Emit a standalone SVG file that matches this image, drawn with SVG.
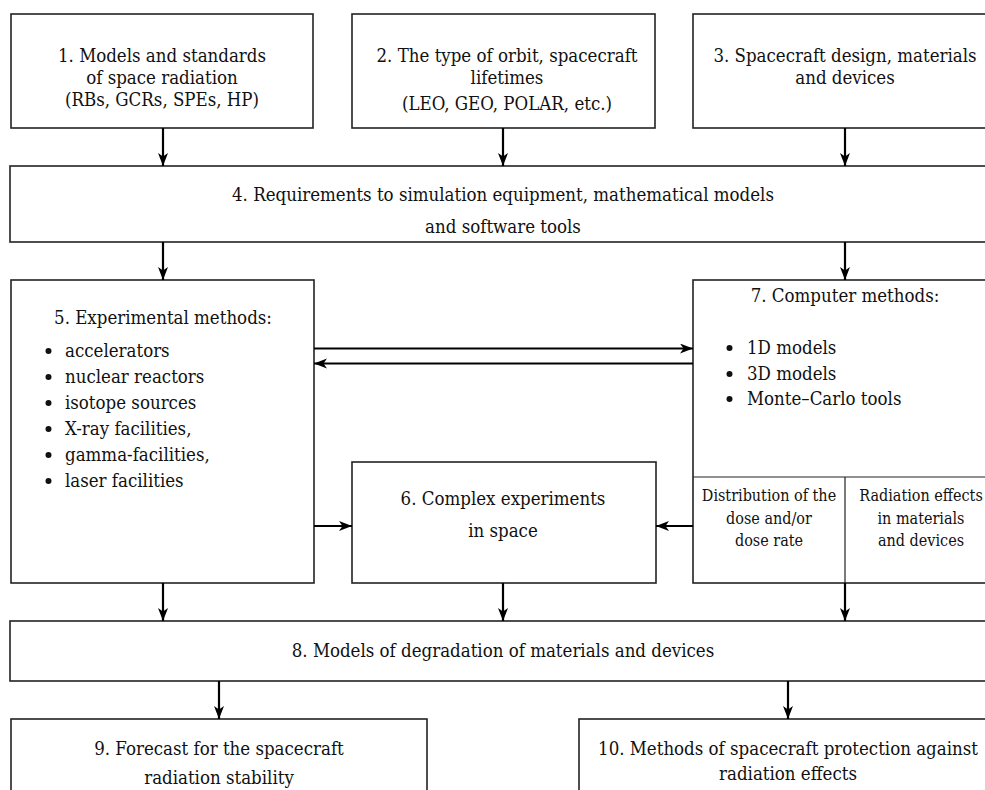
<svg xmlns="http://www.w3.org/2000/svg" width="985" height="790" viewBox="0 0 985 790">
<style>
.box{fill:#fff;stroke:#222;stroke-width:1.6}
.div{fill:none;stroke:#222;stroke-width:1.2}
text{font-family:'DejaVu Serif Condensed','DejaVu Serif',serif;font-stretch:condensed;fill:#111}
.t{font-size:18.5px;text-anchor:middle}
.tl{font-size:18.5px}
.ts{font-size:16px;text-anchor:middle}
.c{fill:none;stroke:#000;stroke-width:2.2;marker-end:url(#ah)}
.dot{fill:#111}
</style>
<defs>
<marker id="ah" markerUnits="userSpaceOnUse" markerWidth="14" markerHeight="12" refX="13" refY="5" orient="auto">
<path d="M0,0 L13,5 L0,10 L3.5,5 Z" fill="#000"/>
</marker>
</defs>
<rect width="985" height="790" fill="#fff"/>

<g id="n1">
<rect class="box" x="11" y="14" width="302" height="114"/>
<text class="t" x="162" y="62">1. Models and standards</text>
<text class="t" x="162" y="84">of space radiation</text>
<text class="t" x="162" y="106">(RBs, GCRs, SPEs, HP)</text>
</g>
<g id="n2">
<rect class="box" x="352" y="14" width="303" height="114"/>
<text class="t" x="507" y="62">2. The type of orbit, spacecraft</text>
<text class="t" x="507" y="84">lifetimes</text>
<text class="t" x="507" y="110">(LEO, GEO, POLAR, etc.)</text>
</g>
<g id="n3">
<rect class="box" x="693" y="14" width="304" height="114"/>
<text class="t" x="845" y="62">3. Spacecraft design, materials</text>
<text class="t" x="845" y="84">and devices</text>
</g>
<g id="n4">
<rect class="box" x="10" y="166" width="987" height="76"/>
<text class="t" x="503" y="201">4. Requirements to simulation equipment, mathematical models</text>
<text class="t" x="503" y="233">and software tools</text>
</g>
<g id="n5">
<rect class="box" x="11" y="280" width="303" height="303"/>
<text class="t" x="163" y="324">5. Experimental methods:</text>
<circle class="dot" cx="48.5" cy="351" r="3"/>
<circle class="dot" cx="48.5" cy="377" r="3"/>
<circle class="dot" cx="48.5" cy="403" r="3"/>
<circle class="dot" cx="48.5" cy="429" r="3"/>
<circle class="dot" cx="48.5" cy="455" r="3"/>
<circle class="dot" cx="48.5" cy="481" r="3"/>
<text class="tl" x="65" y="357">accelerators</text>
<text class="tl" x="65" y="383">nuclear reactors</text>
<text class="tl" x="65" y="409">isotope sources</text>
<text class="tl" x="65" y="435">X-ray facilities,</text>
<text class="tl" x="65" y="461">gamma-facilities,</text>
<text class="tl" x="65" y="487">laser facilities</text>
</g>
<g id="n6">
<rect class="box" x="352" y="462" width="304" height="121"/>
<text class="t" x="503" y="505">6. Complex experiments</text>
<text class="t" x="503" y="537">in space</text>
</g>
<g id="n7">
<rect class="box" x="693" y="280" width="304" height="303"/>
<path class="div" d="M693,477 H997 M845,477 V583"/>
<text class="t" x="845" y="302">7. Computer methods:</text>
<circle class="dot" cx="729.5" cy="348" r="3"/>
<circle class="dot" cx="729.5" cy="374" r="3"/>
<circle class="dot" cx="729.5" cy="399" r="3"/>
<text class="tl" x="747" y="354">1D models</text>
<text class="tl" x="747" y="380">3D models</text>
<text class="tl" x="747" y="405">Monte–Carlo tools</text>
<text class="ts" x="769" y="501">Distribution of the</text>
<text class="ts" x="769" y="524">dose and/or</text>
<text class="ts" x="769" y="546">dose rate</text>
<text class="ts" x="921" y="501">Radiation effects</text>
<text class="ts" x="921" y="524">in materials</text>
<text class="ts" x="921" y="546">and devices</text>
</g>
<g id="n8">
<rect class="box" x="10" y="621" width="987" height="60"/>
<text class="t" x="503" y="657">8. Models of degradation of materials and devices</text>
</g>
<g id="n9">
<rect class="box" x="11" y="719" width="416" height="90"/>
<text class="t" x="219" y="755">9. Forecast for the spacecraft</text>
<text class="t" x="219" y="784">radiation stability</text>
</g>
<g id="n10">
<rect class="box" x="579" y="719" width="418" height="90"/>
<text class="t" x="788" y="755">10. Methods of spacecraft protection against</text>
<text class="t" x="788" y="780">radiation effects</text>
</g>

<g id="connectors">
<path class="c" d="M163,128 V166"/>
<path class="c" d="M503,128 V166"/>
<path class="c" d="M845,128 V166"/>
<path class="c" d="M163,242 V280"/>
<path class="c" d="M845,242 V280"/>
<path class="c" d="M314,348.5 H693"/>
<path class="c" d="M693,363.5 H314"/>
<path class="c" d="M314,526 H352"/>
<path class="c" d="M693,526 H656"/>
<path class="c" d="M163,583 V621"/>
<path class="c" d="M503,583 V621"/>
<path class="c" d="M845,583 V621"/>
<path class="c" d="M219,681 V719"/>
<path class="c" d="M788,681 V719"/>
</g>
</svg>
